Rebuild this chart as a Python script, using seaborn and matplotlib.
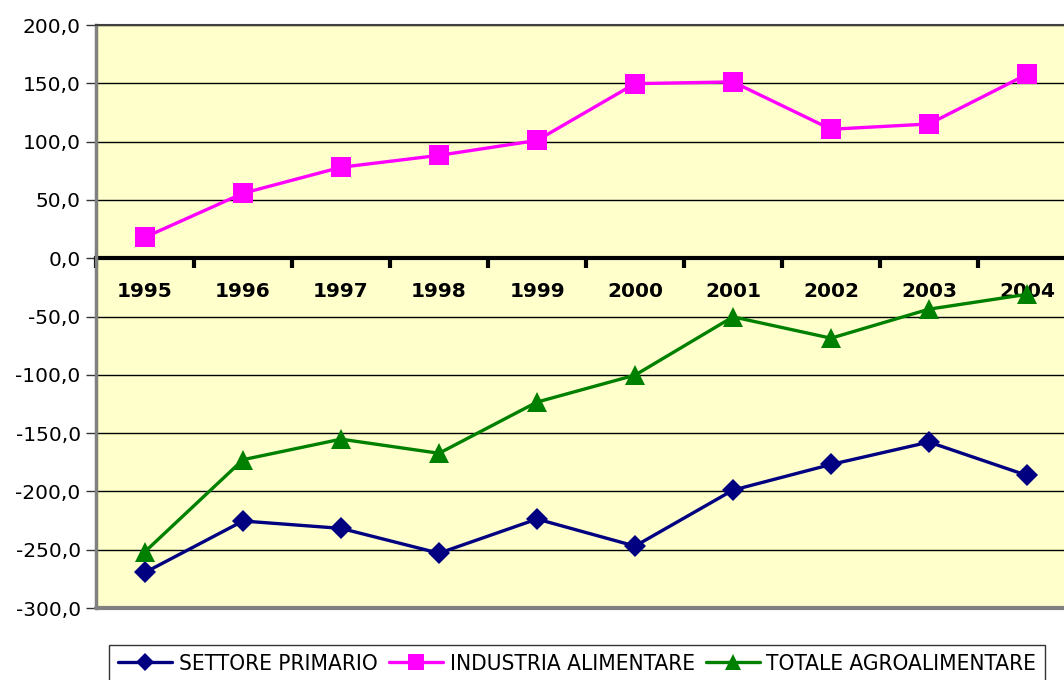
import matplotlib
matplotlib.use("Agg")
import matplotlib.pyplot as plt
import seaborn as sns
import pandas as pd
from matplotlib.ticker import FixedLocator, FuncFormatter

# Data
years = ["1995", "1996", "1997", "1998", "1999", "2000", "2001", "2002", "2003", "2004"]
settore_primario = [-269.5, -225.4, -231.7, -253.0, -223.7, -246.9, -198.9, -176.9, -157.7, -186.3]
industria_alimentare = [18.0, 55.7, 78.0, 88.2, 101.0, 149.7, 151.2, 110.6, 115.1, 157.7]
totale_agroalimentare = [-251.7, -172.8, -155.2, -167.3, -123.4, -100.3, -50.3, -68.6, -43.7, -31.0]
series_names = ["SETTORE PRIMARIO", "INDUSTRIA ALIMENTARE", "TOTALE AGROALIMENTARE"]

df = pd.DataFrame({"anno": years,
                   series_names[0]: settore_primario,
                   series_names[1]: industria_alimentare,
                   series_names[2]: totale_agroalimentare})
df["pos"] = range(len(years))
long_df = df.melt(id_vars=["anno", "pos"], var_name="serie", value_name="valore")

sns.set_style("white")
plt.rcParams["font.family"] = ["DejaVu Sans"]
plt.rcParams["text.color"] = "black"
plt.rcParams["xtick.labelcolor"] = "black"
plt.rcParams["ytick.labelcolor"] = "black"

fig = plt.figure(figsize=(10.64, 6.8), dpi=100)
ax = fig.add_axes([96 / 1064, 72 / 680, 980 / 1064, 583 / 680])
ax.set_facecolor("#FFFFCC")

palette = {series_names[0]: "#000080", series_names[1]: "#FF00FF", series_names[2]: "#008000"}
markers = {series_names[0]: "D", series_names[1]: "s", series_names[2]: "^"}
sizes = {series_names[0]: 11, series_names[1]: 14, series_names[2]: 14}

for name in series_names:
    sub = long_df[long_df["serie"] == name]
    sns.lineplot(data=sub, x="pos", y="valore", ax=ax, color=palette[name],
                 marker=markers[name], markersize=sizes[name], markeredgewidth=0,
                 linewidth=2.4, label=name, legend=False, zorder=3)

ax.set_xlim(-0.5, len(years) - 0.5)
ax.set_ylim(-300, 200)
ax.set_xlabel("")
ax.set_ylabel("")

# y axis
ax.yaxis.set_major_locator(FixedLocator(range(-300, 201, 50)))
ax.yaxis.set_major_formatter(FuncFormatter(lambda v, p: f"{v:.1f}".replace(".", ",")))
ax.tick_params(axis="y", left=True, length=7, width=1, color="#333333",
               labelsize=14.5, pad=4, labelcolor="black")
ax.grid(axis="y", color="black", linewidth=1, zorder=1)

# x axis through zero
ax.spines["bottom"].set_position(("data", 0))
ax.spines["bottom"].set_linewidth(3)
ax.spines["bottom"].set_color("black")
ax.spines["bottom"].set_zorder(2)
ax.set_xticks(range(len(years)))
ax.set_xticklabels(years, fontweight="bold", fontsize=14.5, color="black")
ax.set_xticks([i - 0.5 for i in range(len(years) + 1)], minor=True)
ax.tick_params(axis="x", which="major", length=0, pad=17)
ax.tick_params(axis="x", which="minor", bottom=True, length=7, width=3, color="black")

for s in ["left", "top", "right"]:
    ax.spines[s].set_color("#808080")
ax.spines["left"].set_linewidth(2.5)
ax.spines["top"].set_linewidth(1.5)
ax.spines["top"].set_color("#404040")

# bottom frame line of plot area
ax.axhline(-300, color="#808080", linewidth=3, zorder=2, clip_on=False)

handles, labels = ax.get_legend_handles_labels()
leg = fig.legend(handles, labels, loc="upper left",
                 bbox_to_anchor=(109 / 1064, 1 - 645 / 680), ncol=3,
                 frameon=True, fancybox=False, edgecolor="black",
                 handlelength=2.4, handletextpad=0.3,
                 columnspacing=0.5, borderaxespad=0, borderpad=0.4,
                 markerscale=0.8,
                 prop={"family": "DejaVu Sans", "stretch": "condensed", "size": 16.2})
leg.get_frame().set_linewidth(1)
for t in leg.get_texts():
    t.set_color("black")

fig.savefig("out.png", dpi=100, facecolor="white")
